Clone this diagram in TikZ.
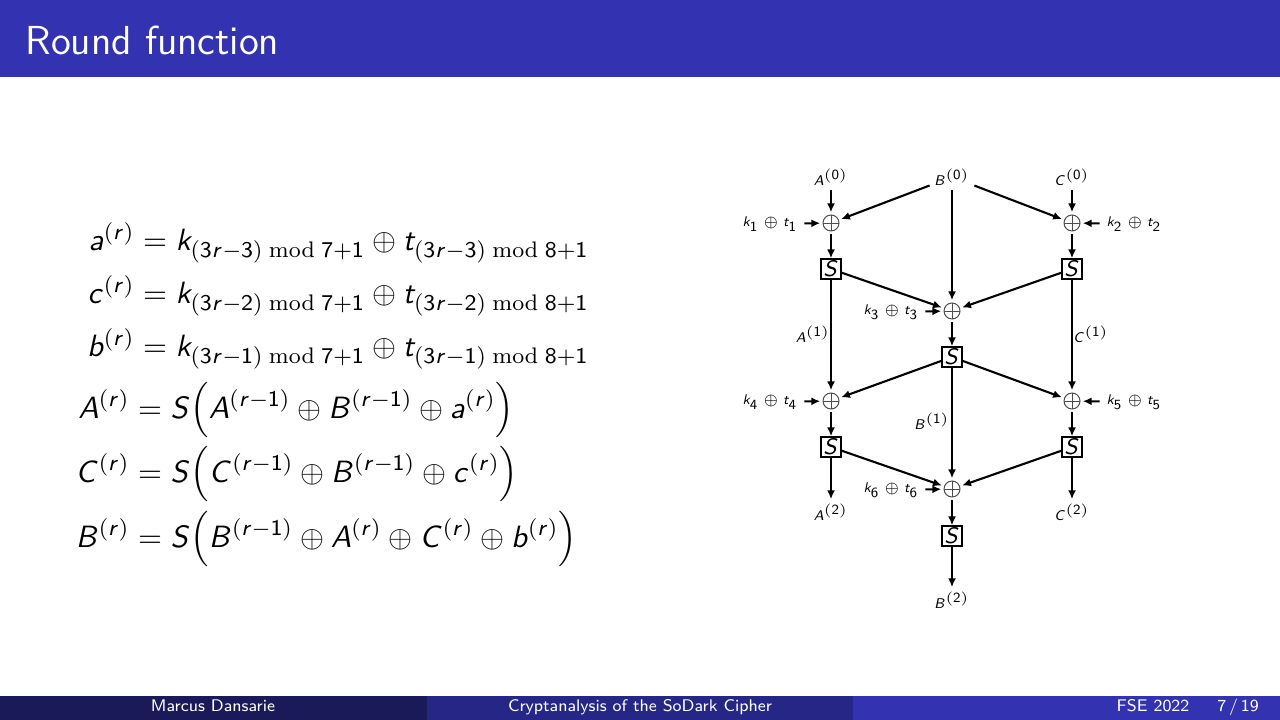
\documentclass[tikz,border=0pt]{standalone}
\usepackage{amsmath}
\usepackage{mathtools}
\usetikzlibrary{arrows.meta}
\DeclareSymbolFont{sfletters}{OT1}{cmss}{m}{sl}
\DeclareSymbolFont{sfdigits}{OT1}{cmss}{m}{n}
\newcommand\sfletter[1]{\DeclareMathSymbol{#1}{\mathalpha}{sfletters}{`#1}}
\newcommand\sfdigit[1]{\DeclareMathSymbol{#1}{\mathalpha}{sfdigits}{`#1}}
\sfletter a\sfletter b\sfletter c\sfletter k\sfletter t\sfletter r
\sfletter A\sfletter B\sfletter C\sfletter S
\sfdigit 0\sfdigit 1\sfdigit 2\sfdigit 3\sfdigit 4\sfdigit 5\sfdigit 6\sfdigit 7\sfdigit 8\sfdigit 9
\definecolor{bstruct}{RGB}{51,51,178}
\definecolor{bsec}{RGB}{38,38,134}
\definecolor{bter}{RGB}{26,26,89}
\begin{document}
\begin{tikzpicture}[x=0.125mm,y=-0.125mm,
  lbl/.style={inner sep=1.5pt, font=\fontsize{5.2}{6.2}\selectfont},
  klbl/.style={lbl, outer sep=1pt},
  xr/.style={circle, draw=black!70, line width=0.35pt, minimum size=2mm, inner sep=0pt, outer sep=0.35mm,
    path picture={\draw[black!70, line width=0.35pt] (path picture bounding box.north) -- (path picture bounding box.south)
      (path picture bounding box.west) -- (path picture bounding box.east);}},
  sbox/.style={draw, line width=0.55pt, minimum size=2.5mm, inner sep=0pt, font=\fontsize{8}{9}\selectfont},
  arr/.style={-{Latex[length=1.1mm,width=1mm]}, line width=0.75pt},
  eq/.style={anchor=base west, inner sep=0pt, font=\fontsize{10.9}{13}\selectfont},
  foot/.style={text=white, inner sep=0pt, anchor=base, font=\sffamily\fontsize{6}{7}\selectfont}]
\useasboundingbox (0,0) rectangle (1280,720);
\fill[white] (0,0) rectangle (1280,720);
% title bar
\fill[bstruct] (0,0) rectangle (1280,77);
\node[anchor=base west, inner sep=0pt, text=white, font=\sffamily\fontsize{14.4}{17}\selectfont] (title) at (25,55) {Round function};
% footer
\fill[bter] (0,696) rectangle (426.7,720);
\fill[bsec] (426.7,696) rectangle (853.3,720);
\fill[bstruct] (853.3,696) rectangle (1280,720);
\node[foot] (fauthor) at (213,711) {Marcus Dansarie};
\node[foot] (ftitle) at (640,711) {Cryptanalysis of the SoDark Cipher};
\node[foot] (fdate) at (1153,711) {FSE 2022};
\node[foot] (fpage) at (1238,711) {7\,/\,19};
% equations
\node[eq] (e1) at (134,251) {$\mathllap{a^{(r)}} = k_{(3r-3)\bmod 7+1} \oplus t_{(3r-3)\bmod 8+1}$};
\node[eq] (e2) at (134,304) {$\mathllap{c^{(r)}} = k_{(3r-2)\bmod 7+1} \oplus t_{(3r-2)\bmod 8+1}$};
\node[eq] (e3) at (134,357) {$\mathllap{b^{(r)}} = k_{(3r-1)\bmod 7+1} \oplus t_{(3r-1)\bmod 8+1}$};
\node[eq] (e4) at (129,418) {$\mathllap{A^{(r)}} = S\Bigl(A^{(r-1)} \oplus B^{(r-1)} \oplus a^{(r)}\Bigr)$};
\node[eq] (e5) at (129,482) {$\mathllap{C^{(r)}} = S\Bigl(C^{(r-1)} \oplus B^{(r-1)} \oplus c^{(r)}\Bigr)$};
\node[eq] (e6) at (129,547) {$\mathllap{B^{(r)}} = S\Bigl(B^{(r-1)} \oplus A^{(r)} \oplus C^{(r)} \oplus b^{(r)}\Bigr)$};
% diagram nodes
\node[lbl] (A0) at (831,177) {$A^{(0)}$};
\node[lbl] (B0) at (952,177) {$B^{(0)}$};
\node[lbl] (C0) at (1072,177) {$C^{(0)}$};
\node[xr] (x1) at (831,223) {};
\node[xr] (x2) at (1072,223) {};
\node[klbl] (k1) at (770,224) {$k_1 \oplus t_1$};
\node[klbl] (k2) at (1134,224) {$k_2 \oplus t_2$};
\node[sbox] (s1) at (831,269) {$S$};
\node[sbox] (s2) at (1072,269) {$S$};
\node[xr] (x3) at (952,311) {};
\node[klbl] (k3) at (891,312) {$k_3 \oplus t_3$};
\node[sbox] (s3) at (952,357) {$S$};
\node[xr] (x4) at (831,401) {};
\node[xr] (x5) at (1072,401) {};
\node[klbl] (k4) at (770,402) {$k_4 \oplus t_4$};
\node[klbl] (k5) at (1134,402) {$k_5 \oplus t_5$};
\node[sbox] (s4) at (831,447) {$S$};
\node[sbox] (s5) at (1072,447) {$S$};
\node[xr] (x6) at (952,489) {};
\node[klbl] (k6) at (891,490) {$k_6 \oplus t_6$};
\node[lbl] (A2) at (831,512) {$A^{(2)}$};
\node[lbl] (C2) at (1072,512) {$C^{(2)}$};
\node[sbox] (s6) at (952,536) {$S$};
\node[lbl] (B2) at (952,600) {$B^{(2)}$};
\node[lbl] (A1) at (813,334) {$A^{(1)}$};
\node[lbl] (C1) at (1091,334) {$C^{(1)}$};
\node[lbl] (B1) at (932,421) {$B^{(1)}$};
% connectors
\draw[arr] (A0) -- (x1);
\draw[arr] (B0) -- (x1);
\draw[arr] (B0) -- (x2);
\draw[arr] (C0) -- (x2);
\draw[arr] (B0) -- (x3);
\draw[arr] (k1) -- (x1);
\draw[arr] (k2) -- (x2);
\draw[arr] (x1) -- (s1);
\draw[arr] (x2) -- (s2);
\draw[arr] (s1) -- (x3);
\draw[arr] (s2) -- (x3);
\draw[arr] (k3) -- (x3);
\draw[arr] (x3) -- (s3);
\draw[arr] (s1) -- (x4);
\draw[arr] (s2) -- (x5);
\draw[arr] (s3) -- (x4);
\draw[arr] (s3) -- (x5);
\draw[arr] (s3) -- (x6);
\draw[arr] (k4) -- (x4);
\draw[arr] (k5) -- (x5);
\draw[arr] (x4) -- (s4);
\draw[arr] (x5) -- (s5);
\draw[arr] (s4) -- (x6);
\draw[arr] (s5) -- (x6);
\draw[arr] (k6) -- (x6);
\draw[arr] (s4) -- (A2);
\draw[arr] (s5) -- (C2);
\draw[arr] (x6) -- (s6);
\draw[arr] (s6) -- (B2);
\end{tikzpicture}
\end{document}
